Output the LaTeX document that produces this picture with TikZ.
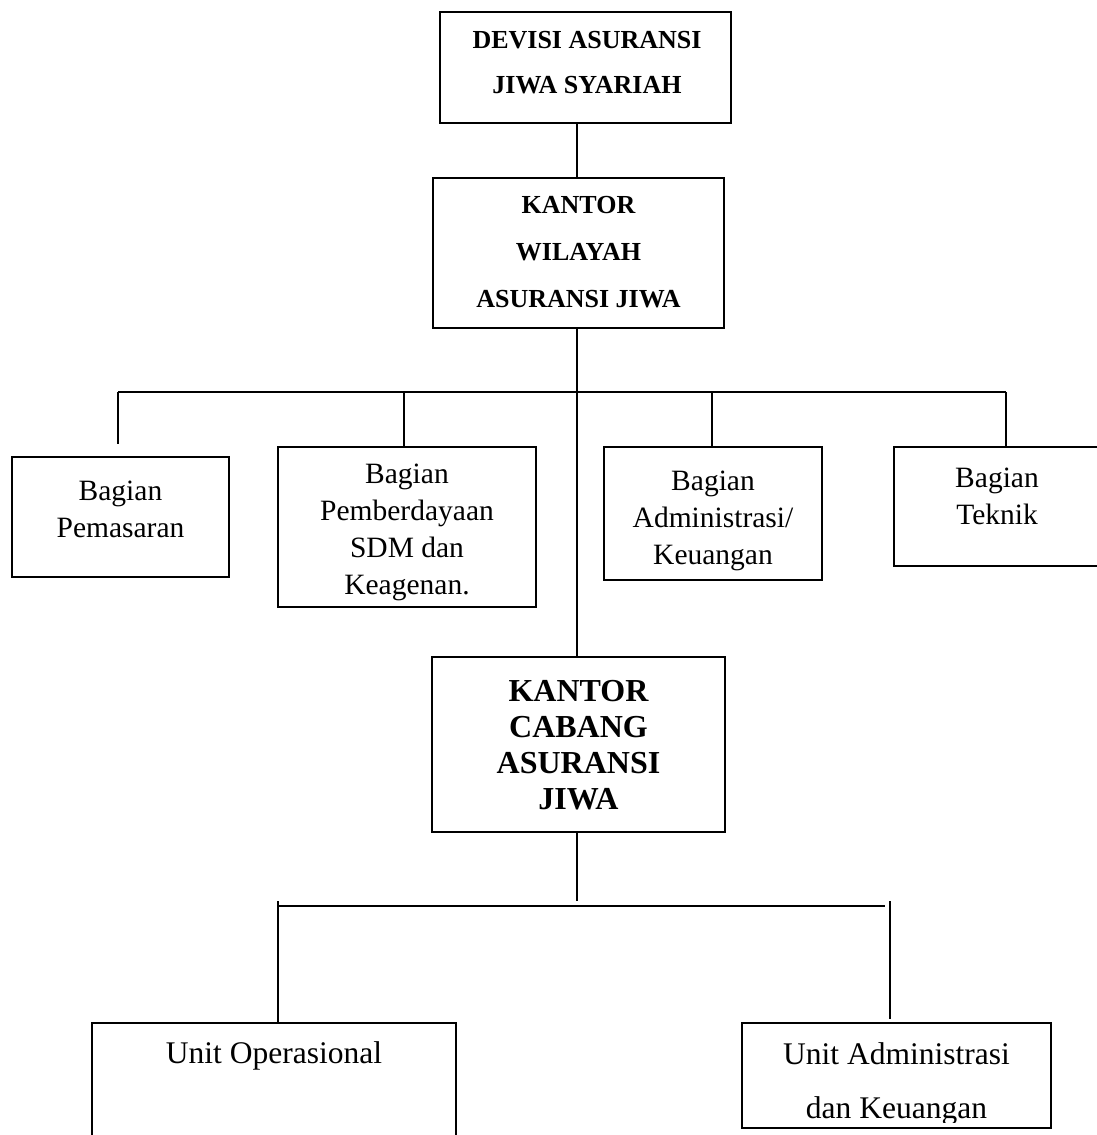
\documentclass[tikz,border=0pt]{standalone}
\usepackage{fontspec}
\setmainfont{Liberation Serif}
\newcommand\mylines[1]{\begin{tabular}[t]{@{}c@{}}#1\end{tabular}}
\begin{document}
\begin{tikzpicture}[x=1pt,y=-1pt,line width=2pt,
  box/.style={draw,rectangle,inner sep=0pt,outer sep=0pt,line width=2pt},
  txt/.style={anchor=base,inner sep=0pt,outer sep=0pt},
  headA/.style={txt,font=\fontsize{26}{45}\selectfont\bfseries},
  headB/.style={txt,font=\fontsize{26}{47}\selectfont\bfseries},
  headC/.style={txt,font=\fontsize{32}{36}\selectfont\bfseries},
  body/.style={txt,font=\fontsize{29.5}{37}\selectfont},
  unit/.style={txt,font=\fontsize{31.5}{54}\selectfont},
  link/.style={draw,line width=2pt}]
\useasboundingbox (0,0) rectangle (1097,1135);
\clip (0,0) rectangle (1097,1135);

% boxes
\node[box,minimum width=291pt,minimum height=111pt] (dev) at (585.5,67.5) {};
\node[box,minimum width=291pt,minimum height=150pt] (wil) at (578.5,253) {};
\node[box,minimum width=217pt,minimum height=120pt] (pem) at (120.5,517) {};
\node[box,minimum width=258pt,minimum height=160pt] (sdm) at (407,527) {};
\node[box,minimum width=218pt,minimum height=133pt] (adm) at (713,513.5) {};
\node[box,minimum width=206pt,minimum height=119pt] (tek) at (997,506.5) {};
\node[box,minimum width=293pt,minimum height=175pt] (cab) at (578.5,744.5) {};
\node[box,minimum width=364pt,minimum height=130pt] (uo) at (274,1088) {};
\node[box,minimum width=309pt,minimum height=105pt] (ua) at (896.5,1075.5) {};

% texts
\node[headA] (devt) at (587,48) {\mylines{DEVISI ASURANSI\\JIWA SYARIAH}};
\node[headB] (wilt) at (578.5,213) {\mylines{KANTOR\\WILAYAH\\ASURANSI JIWA}};
\node[body] (pemt) at (120.5,500) {\mylines{Bagian\\Pemasaran}};
\begin{scope}
  \clip (279,448) rectangle (535,600);
  \node[body] (sdmt) at (407,483) {\mylines{Bagian\\Pemberdayaan\\SDM dan\\Keagenan.}};
\end{scope}
\node[body] (admt) at (713,490) {\mylines{Bagian\\Administrasi/\\Keuangan}};
\node[body] (tekt) at (997,487) {\mylines{Bagian\\Teknik}};
\node[headC] (cabt) at (578.5,701) {\mylines{KANTOR\\CABANG\\ASURANSI\\JIWA}};
\node[unit] (uot) at (274,1063) {Unit Operasional};
\begin{scope}
  \clip (743,1024) rectangle (1050,1122);
  \node[unit] (uat) at (896.5,1064) {\mylines{Unit Administrasi\\dan Keuangan}};
\end{scope}

% connectors
\coordinate (v) at (577,0);
\draw[link] (v |- dev.south) -- (v |- wil.north);
\draw[link] (v |- wil.south) -- (v |- cab.north);
\coordinate (b1) at (118,392);
\coordinate (b2) at (404,392);
\coordinate (b3) at (712,392);
\coordinate (b4) at (1006,392);
\coordinate (p1) at (118,444);
\draw[link] (b1) -- (b4);
\draw[link] (b1) -- (p1);
\draw[link] (b2) -- (b2 |- sdm.north);
\draw[link] (b3) -- (b3 |- adm.north);
\draw[link] (b4) -- (b4 |- tek.north);
\coordinate (c0) at (577,901);
\draw[link] (v |- cab.south) -- (c0);
\coordinate (q1) at (278,906);
\coordinate (q2) at (885,906);
\draw[link] (q1) -- (q2);
\coordinate (q1t) at (278,901);
\draw[link] (q1t) -- (q1t |- uo.north);
\coordinate (q2t) at (890,901);
\coordinate (q2b) at (890,1019);
\draw[link] (q2t) -- (q2b);
\end{tikzpicture}
\end{document}
